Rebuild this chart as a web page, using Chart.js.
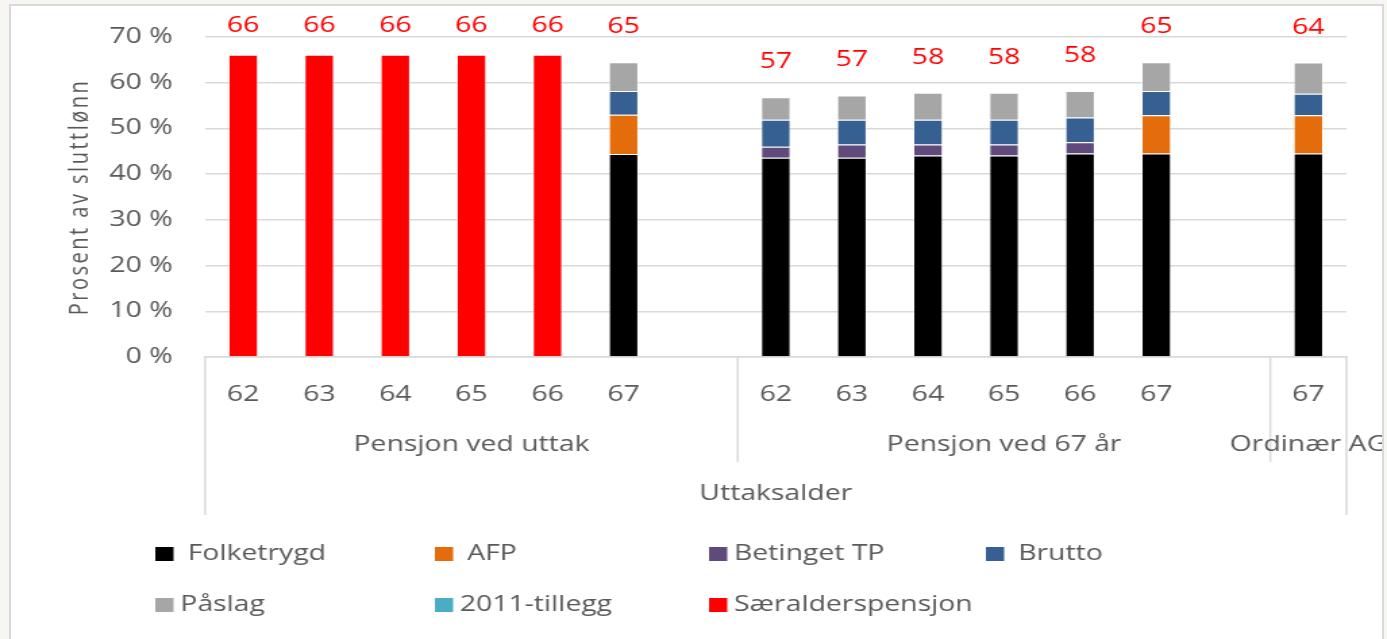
<!DOCTYPE html>
<html>
<head>
<meta charset="utf-8">
<script src="https://cdn.jsdelivr.net/npm/chart.js@4.4.1/dist/chart.umd.min.js"></script>
<style>
  html, body { margin: 0; padding: 0; background: #f7f6f2; }
  #frame { position: absolute; left: 9px; top: 4px; width: 1371px; height: 650px; background: #fff; border: 2px solid #d9d9d9; }
  #clip { position: absolute; left: 0; top: 0; width: 1382px; height: 639px; overflow: hidden; }
  #myChart { transform: scaleX(1.3505); transform-origin: 0 0; }
</style>
</head>
<body>
<div id="frame"></div>
<div id="clip"><canvas id="myChart" width="1027" height="639"></canvas></div>
<script>
let labels = ['62', '63', '64', '65', '66', '67', '', '62', '63', '64', '65', '66', '67', '', '67'];
let groups = ['Pensjon ved uttak', 'Pensjon ved 67 år', 'Ordinær AG'];
let groupSizes = [7, 7, 1];
let axisTitle = 'Uttaksalder';
let yTitle = 'Prosent av sluttlønn';

let folketrygd  = [0, 0, 0, 0, 0, 44.4, null, 43.6, 43.6, 44.1, 44.1, 44.5, 44.5, null, 44.5];
let afp         = [0, 0, 0, 0, 0, 8.6, null, 0, 0, 0, 0, 0, 8.4, null, 8.4];
let betingetTP  = [0, 0, 0, 0, 0, 0, null, 2.4, 2.9, 2.4, 2.4, 2.5, 0, null, 0];
let brutto      = [0, 0, 0, 0, 0, 5.2, null, 5.9, 5.4, 5.4, 5.4, 5.4, 5.3, null, 4.7];
let paslag      = [0, 0, 0, 0, 0, 6.3, null, 4.9, 5.3, 5.9, 5.9, 5.8, 6.3, null, 6.8];
let tillegg2011 = [0, 0, 0, 0, 0, 0, null, 0, 0, 0, 0, 0, 0, null, 0];
let saeralder   = [66.1, 66.1, 66.1, 66.1, 66.1, 0, null, 0, 0, 0, 0, 0, 0, null, 0];
let totals      = [66, 66, 66, 66, 66, 65, null, 57, 57, 58, 58, 58, 65, null, 64];

let seriesNames = [' Folketrygd', ' AFP', 'Betinget TP', ' Brutto', 'Påslag', '2011-tillegg', 'Særalderspensjon'];
let seriesColors = ['#000000', '#e46c0a', '#604a7b', '#376092', '#a6a6a6', '#4bacc6', '#ff0000'];
let seriesData = [folketrygd, afp, betingetTP, brutto, paslag, tillegg2011, saeralder];

Chart.defaults.font.family = '"Open Sans", "DejaVu Sans", sans-serif';
Chart.defaults.font.size = 21;
Chart.defaults.color = '#595959';

// red totals, group axis, y title and legend
let extras = {
  id: 'extras',
  afterDraw(chart) {
    let ctx = chart.ctx;
    let x = chart.scales.x, y = chart.scales.y;
    let area = chart.chartArea;
    ctx.save();

    ctx.font = '21px "Open Sans"';
    ctx.fillStyle = '#ff0000';
    ctx.textAlign = 'center';
    ctx.textBaseline = 'middle';
    totals.forEach((t, i) => {
      if (t == null) return;
      let sum = seriesData.reduce((s, d) => s + (d[i] || 0), 0);
      let top = y.getPixelForValue(sum);
      ctx.fillText(String(t), x.getPixelForValue(i), Math.max(26, top - 35));
    });

    let edge = i => {
      if (i === 0) return area.left;
      if (i === labels.length) return area.right;
      return (x.getPixelForValue(i - 1) + x.getPixelForValue(i)) / 2;
    };
    ctx.strokeStyle = '#d9d9d9';
    ctx.lineWidth = 1.5;
    ctx.beginPath();
    ctx.moveTo(edge(0), area.bottom); ctx.lineTo(edge(0), 515);
    ctx.moveTo(edge(labels.length), area.bottom); ctx.lineTo(edge(labels.length), 515);
    let start = 0;
    groupSizes.forEach((n, g) => {
      if (g > 0) {
        ctx.moveTo(edge(start), area.bottom);
        ctx.lineTo(edge(start), 462);
      }
      start += n;
    });
    ctx.stroke();

    ctx.fillStyle = '#595959';
    start = 0;
    groupSizes.forEach((n, g) => {
      ctx.fillText(groups[g], (edge(start) + edge(start + n)) / 2, 445);
      start += n;
    });
    ctx.fillText(axisTitle, (area.left + area.right) / 2, 494);

    // y axis title
    ctx.save();
    ctx.translate(59.5, (area.top + area.bottom) / 2);
    ctx.rotate(-Math.PI / 2);
    ctx.font = '20px "Open Sans"';
    ctx.letterSpacing = '2.5px';
    ctx.fillText(yTitle, 0, 0);
    ctx.restore();

    // legend
    let colX = [115, 322, 525, 730];
    let rowY = [554, 605];
    ctx.textAlign = 'left';
    seriesNames.forEach((name, i) => {
      let cx = colX[i % 4], cy = rowY[Math.floor(i / 4)];
      ctx.fillStyle = seriesColors[i];
      ctx.fillRect(cx, cy - 7, 13.5, 14);
      ctx.fillStyle = '#595959';
      ctx.fillText(name, cx + 18.5, cy);
    });
    ctx.restore();
  }
};

let mychart = document.getElementById('myChart');

let chart = new Chart(mychart, {
  type: 'bar',
  data: {
    labels: labels,
    datasets: seriesNames.map((name, i) => ({
      label: name.trim(),
      data: seriesData[i],
      backgroundColor: seriesColors[i],
      borderColor: 'rgba(255,255,255,0.4)',
      borderWidth: 1,
      barPercentage: 0.395,
      categoryPercentage: 1
    }))
  },
  options: {
    responsive: false,
    animation: false,
    layout: { padding: { top: 37, right: 30, left: 0, bottom: 0 } },
    plugins: {
      legend: { display: false },
      tooltip: { enabled: false }
    },
    scales: {
      x: {
        stacked: true,
        grid: { display: false, drawTicks: false },
        border: { display: true, color: '#d9d9d9', width: 1.5 },
        ticks: { padding: 25, autoSkip: false, maxRotation: 0 },
        afterFit: s => { s.height = 282; }
      },
      y: {
        stacked: true,
        min: 0,
        max: 70,
        ticks: { stepSize: 10, padding: 24, callback: v => v + ' %' },
        grid: { color: '#d9d9d9', lineWidth: 1.5, drawTicks: false },
        border: { display: false },
        afterFit: s => { s.width = 151.9; }
      }
    }
  },
  plugins: [extras]
});
</script>
</body>
</html>
